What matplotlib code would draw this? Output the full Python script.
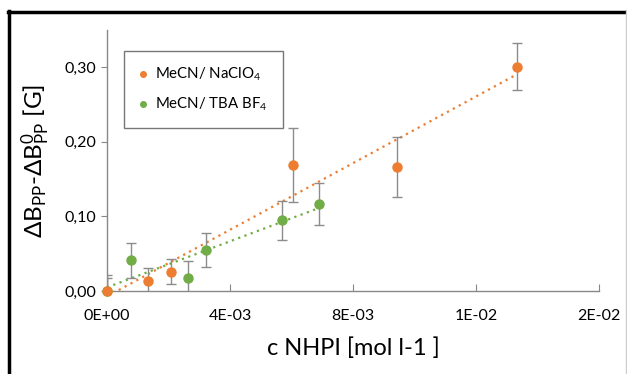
import matplotlib
matplotlib.use("Agg")
from matplotlib import pyplot as plt
from matplotlib.lines import Line2D
from matplotlib.ticker import FuncFormatter, MultipleLocator
import numpy as np

plt.rcParams['font.family'] = ['Lato', 'DejaVu Sans']
plt.rcParams['mathtext.default'] = 'regular'

# MeCN / NaClO4 series (orange)
naclo4_x = [0.0, 1.33e-3, 2.08e-3, 6.05e-3, 9.43e-3, 13.32e-3]
naclo4_y = [0.000, 0.014, 0.026, 0.169, 0.166, 0.301]
naclo4_err = [0.021, 0.017, 0.017, 0.049, 0.040, 0.031]

# MeCN / TBA BF4 series (green)
tbabf4_x = [0.0, 0.78e-3, 2.63e-3, 3.22e-3, 5.68e-3, 6.90e-3]
tbabf4_y = [0.000, 0.041, 0.018, 0.055, 0.095, 0.117]
tbabf4_err = [0.017, 0.023, 0.022, 0.023, 0.026, 0.028]

ORANGE = "#ED7D31"
GREEN = "#70AD47"
ERRC = "#8C8C8C"
AXC = "#888888"

fig = plt.figure(figsize=(6.27, 3.74), dpi=100)
ax = fig.add_axes([0.1707, 0.2219, 0.7846, 0.6979])

def trend(x, y, color):
    k, b = np.polyfit(x, y, 1)
    xs = np.linspace(min(x), max(x), 50)
    ax.plot(xs, k * xs + b, linestyle=(0, (1, 2)), color=color, linewidth=1.6, zorder=2)

trend(naclo4_x, naclo4_y, ORANGE)
trend(tbabf4_x, tbabf4_y, GREEN)

eb = ax.errorbar(tbabf4_x, tbabf4_y, yerr=tbabf4_err, fmt='o', color=GREEN, ms=6.5,
                 ecolor=ERRC, elinewidth=1, capsize=3.5, capthick=1, zorder=3)
eb[0].set_clip_on(False)
eb = ax.errorbar(naclo4_x, naclo4_y, yerr=naclo4_err, fmt='o', color=ORANGE, ms=6.5,
                 ecolor=ERRC, elinewidth=1, capsize=3.5, capthick=1, zorder=4)
eb[0].set_clip_on(False)

ax.set_xlim(0, 0.016)
ax.set_ylim(0, 0.35)
ax.xaxis.set_major_locator(MultipleLocator(0.004))
ax.yaxis.set_major_locator(MultipleLocator(0.10))
ax.xaxis.set_major_formatter(FuncFormatter(lambda v, p: format(v, '.0E')))
ax.yaxis.set_major_formatter(FuncFormatter(lambda v, p: ("%.2f" % v).replace('.', ',')))

for s in ['top', 'right']:
    ax.spines[s].set_visible(False)
for s in ['left', 'bottom']:
    ax.spines[s].set_color(AXC)
    ax.spines[s].set_linewidth(1)
ax.tick_params(axis='y', direction='out', length=4, color=AXC, labelsize=11.5, pad=4)
ax.tick_params(axis='x', direction='in', length=5, color=AXC, labelsize=11.5, pad=13)

ax.set_xlabel("c NHPI [mol l-1 ]", fontsize=17, labelpad=10)
ax.set_ylabel(r"ΔB$_{PP}$-ΔB$^0_{PP}$ [G]", fontsize=17.5, labelpad=8)

h = [Line2D([], [], marker='o', ls='', color=ORANGE, ms=4),
     Line2D([], [], marker='o', ls='', color=GREEN, ms=4)]
leg = ax.legend(h, ["MeCN/ NaClO$_4$", "MeCN/ TBA BF$_4$"], loc='upper left',
                bbox_to_anchor=(0.034, 0.92), fontsize=10.8, frameon=True,
                fancybox=False, edgecolor="#555555", handlelength=0.6,
                handletextpad=0.5, borderpad=1.0, labelspacing=0.85,
                borderaxespad=0)
leg.get_frame().set_linewidth(1)

# outer frame
fig.add_artist(Line2D([8.5 / 627, 8.5 / 627], [0, 1 - 11 / 374], color='black', lw=2.5,
                      transform=fig.transFigure))
fig.add_artist(Line2D([8 / 627, 1], [1 - 11.5 / 374, 1 - 11.5 / 374], color='black', lw=2.5,
                      transform=fig.transFigure))
fig.add_artist(Line2D([625.5 / 627, 625.5 / 627], [0, 1 - 11 / 374], color='#cccccc', lw=1,
                      transform=fig.transFigure))

fig.savefig("out.png", dpi=100)
